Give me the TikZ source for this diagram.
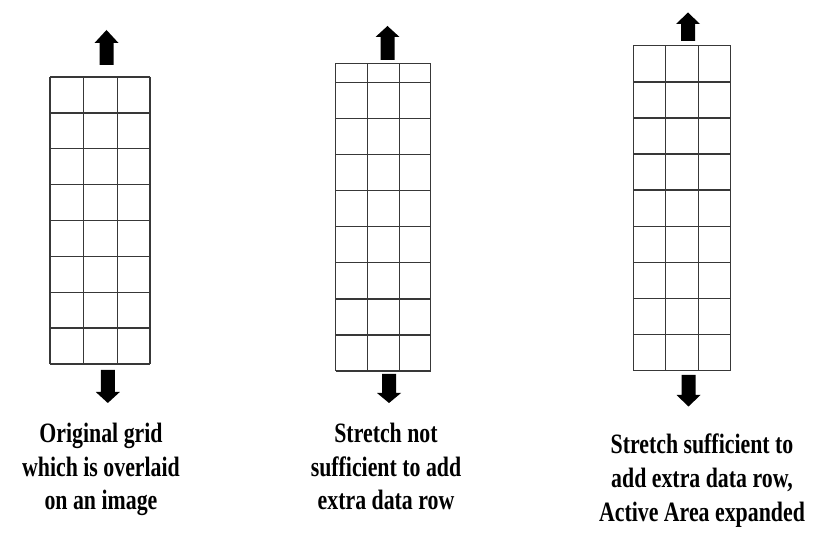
\documentclass[tikz,border=0pt]{standalone}
\usepackage{fontspec}
\newfontfamily\capfont[FakeStretch=0.78]{Liberation Serif}
\newcommand\blockarrow[5][]{%
  \fill[arrowfill,#1] (#2-7,#3) -- (#2-7,#5) -- (#2-12,#5) -- (#2,#4) -- (#2+12,#5) -- (#2+7,#5) -- (#2+7,#3) -- cycle;}
\begin{document}
\begin{tikzpicture}[x=1pt,y=-1pt,
  gridline/.style={line width=1.4pt,black!78},
  arrowfill/.style={black},
  caption/.style={font=\capfont\bfseries\fontsize{28}{33.8}\selectfont,align=center,inner sep=0pt,anchor=base}]
\useasboundingbox[fill=white] (0,0) rectangle (839,534);
% grid 1
\foreach \yy in {0,...,8} \draw[gridline] (50,{77+35.875*\yy}) -- (150,{77+35.875*\yy});
\foreach \xx in {50,83.3,117.7,150} \draw[gridline] (\xx,77) -- (\xx,364);
% grid 2
\draw[gridline] (335.7,63.3) -- (430.7,63.3);
\foreach \yy in {0,...,8} \draw[gridline] (335.7,{82.3+36.1*\yy}) -- (430.7,{82.3+36.1*\yy});
\foreach \xx in {335.7,367.3,399.3,430.7} \draw[gridline] (\xx,63.3) -- (\xx,371.1);
% grid 3
\foreach \yy in {0,...,9} \draw[gridline] (633.3,{45.7+36.11*\yy}) -- (730.7,{45.7+36.11*\yy});
\foreach \xx in {633.3,665.7,698.7,730.7} \draw[gridline] (\xx,45.7) -- (\xx,370.7);
% arrows
\blockarrow{106.5}{65}{30}{43}
\blockarrow{107.8}{370}{403}{392}
\blockarrow{387.5}{60}{26}{37}
\blockarrow{389}{374}{403}{393}
\blockarrow{688}{41}{12.5}{24}
\blockarrow{688.5}{375}{406.5}{395}
% captions
\node[caption] (c1) at (101,510) {Original grid\\which is overlaid\\on an image};
\node[caption] (c2) at (386,510) {Stretch not\\sufficient to add\\extra data row};
\node[caption] (c3) at (702,521.5) {Stretch sufficient to\\add extra data row,\\Active Area expanded};
\end{tikzpicture}
\end{document}
